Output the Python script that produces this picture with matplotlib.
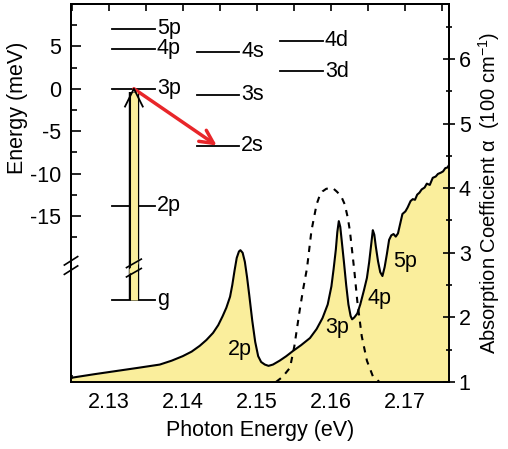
import matplotlib
matplotlib.use("Agg")
import matplotlib.pyplot as plt
from matplotlib.ticker import MultipleLocator, FixedLocator

plt.rcParams['font.family'] = ['Liberation Sans', 'DejaVu Sans']
plt.rcParams['font.size'] = 15.5
plt.rcParams['axes.unicode_minus'] = False
plt.rcParams['mathtext.fontset'] = 'custom'
plt.rcParams['mathtext.rm'] = 'Liberation Sans'

# absorption spectrum (eV, 100 cm^-1)
abs_e = [2.1249, 2.1252, 2.1280, 2.1310, 2.1340, 2.1369, 2.1385, 2.1400, 2.1412,
         2.1423, 2.1432, 2.1441, 2.1448, 2.1454, 2.1459, 2.1464, 2.1467, 2.1470,
         2.1473, 2.1476, 2.1478, 2.1481, 2.1484, 2.1487, 2.1490, 2.1494, 2.1498,
         2.1502, 2.1506, 2.1511, 2.1516, 2.1522, 2.1531, 2.1540, 2.1549, 2.1560,
         2.1572, 2.1581, 2.1589, 2.1596, 2.1601, 2.1604, 2.1607, 2.1609, 2.1611,
         2.1613, 2.1615, 2.1618, 2.1621, 2.1624, 2.1627, 2.1629, 2.1632, 2.1636,
         2.1640, 2.1645, 2.1649, 2.1652, 2.1655, 2.1657, 2.1659, 2.1661, 2.1664,
         2.1667, 2.1670, 2.1673, 2.1676, 2.1679, 2.1682, 2.1685, 2.1688, 2.1691,
         2.1694, 2.1697, 2.1701, 2.1704, 2.1708, 2.1711, 2.1714, 2.1717, 2.1720,
         2.1723, 2.1727, 2.1730, 2.1734, 2.1738, 2.1742, 2.1745, 2.1749, 2.1752,
         2.1755, 2.1758, 2.1760]
abs_a = [1.06, 1.07, 1.12, 1.17, 1.22, 1.27, 1.33, 1.40, 1.47,
         1.56, 1.65, 1.76, 1.88, 2.02, 2.15, 2.32, 2.50, 2.72,
         2.92, 3.02, 3.04, 3.00, 2.86, 2.62, 2.34, 1.95, 1.62,
         1.40, 1.31, 1.27, 1.25, 1.27, 1.33, 1.40, 1.48, 1.57,
         1.68, 1.82, 1.99, 2.20, 2.48, 2.75, 3.05, 3.32, 3.49,
         3.40, 3.18, 2.85, 2.50, 2.20, 2.02, 1.97, 2.00, 2.06,
         2.20, 2.42, 2.61, 2.85, 3.15, 3.35, 3.28, 3.10, 2.87,
         2.70, 2.64, 2.78, 2.98, 3.20, 3.27, 3.29, 3.25, 3.30,
         3.45, 3.60, 3.64, 3.70, 3.80, 3.83, 3.82, 3.90, 3.93,
         3.98, 4.01, 4.07, 4.05, 4.16, 4.18, 4.22, 4.24, 4.26,
         4.31, 4.32, 4.36]

# laser spectrum (dashed)
laser_e = [2.1526, 2.1535, 2.1545, 2.1551, 2.1558, 2.1563, 2.1568, 2.1574, 2.1581,
           2.1585, 2.1589, 2.1594, 2.1599, 2.1604, 2.1608, 2.1614, 2.1619, 2.1623,
           2.1626, 2.1632, 2.1636, 2.1642, 2.1649, 2.1657, 2.1666]
laser_a = [1.00, 1.08, 1.22, 1.56, 2.10, 2.45, 2.76, 3.34, 3.75,
           3.88, 3.95, 3.99, 4.00, 3.99, 3.95, 3.88, 3.75, 3.55,
           3.34, 2.72, 2.25, 1.71, 1.33, 1.09, 1.00]

# exciton levels (meV), g drawn below the axis break
p_names = ['5p', '4p', '3p', '2p', 'g']
p_levels = [7.06, 4.73, 0.0, -13.8, -24.9]
s_names = ['4s', '3s', '2s']
s_levels = [4.34, -0.71, -6.7]
d_names = ['4d', '3d']
d_levels = [5.67, 2.05]
col_x = [(2.1305, 2.1362), (2.1419, 2.1476), (2.1532, 2.1589)]

peak_names = ['2p', '3p', '4p', '5p']
peak_pos = [(2.1477, 1.51), (2.1609, 1.84), (2.1666, 2.30), (2.1701, 2.87)]

yellow = '#FAEE9C'

fig = plt.figure(figsize=(5.08, 4.49), dpi=100)
ax = fig.add_axes([0.1398, 0.1492, 0.7441, 0.8419])
ax2 = ax.twinx()

# absorption on right axis
ax2.fill_between(abs_e, abs_a, 1.0, color=yellow, lw=0)
ax2.plot(abs_e, abs_a, color='black', lw=1.5)
ax2.plot(laser_e, laser_a, color='black', lw=1.5, dashes=(3, 3))
for name, (xx, yy) in zip(peak_names, peak_pos):
    ax2.text(xx, yy, name, ha='center', va='center')
ax2.set_ylim(1, 6.85)
ax2.yaxis.set_major_locator(MultipleLocator(1))
ax2.yaxis.set_minor_locator(MultipleLocator(0.5))
ax2.tick_params(axis='y', which='major', direction='inout', length=8, width=1.2, pad=3)
ax2.tick_params(axis='y', which='minor', direction='inout', length=5, width=1.2)
ax2.set_ylabel('Absorption Coefficient α  (100 cm$^{-1}$)', fontsize=14.5, labelpad=4)

# level diagram on left axis
ax.set_xlim(2.1249, 2.1760)
ax.set_ylim(-34.6, 10.0)
for names, levels, (x0, x1) in zip([p_names, s_names, d_names],
                                   [p_levels, s_levels, d_levels], col_x):
    for nm, lv in zip(names, levels):
        ax.plot([x0, x1], [lv, lv], color='black', lw=1.3)
        ax.text(x1 + 0.0003, lv, nm, ha='left', va='center')

# yellow excitation arrow g -> 3p
xa = 2.1334
ax.plot([xa, xa], [-24.9, -0.4], color='black', lw=7.5, solid_capstyle='butt', zorder=3)
ax.plot([xa, xa], [-24.9, -0.4], color=yellow, lw=5, solid_capstyle='butt', zorder=4)
ax.plot([xa - 0.0012, xa, xa + 0.0012], [-2.1, 0, -2.1], color='black', lw=1.3, zorder=5)
# break on arrow
for yb in [-20.6, -21.7]:
    ax.plot([xa - 0.0010, xa + 0.0010], [yb - 0.5, yb + 0.5], color='black', lw=1.2, zorder=6)
ax.fill([xa - 0.0006, xa + 0.0006, xa + 0.0006, xa - 0.0006],
        [-21.3, -20.1, -20.7, -21.9], color=yellow, lw=0, zorder=5)

# red relaxation arrow 3p -> 2s
ax.annotate('', xy=(2.1446, -6.7), xytext=(xa, 0),
            arrowprops=dict(arrowstyle='->', color='#E8262A', lw=2.5,
                            mutation_scale=24, shrinkA=0, shrinkB=0))

# break on left spine
xs = 2.1249
for yb in [-20.3, -21.4]:
    ax.plot([xs - 0.0009, xs + 0.0009], [yb - 0.5, yb + 0.5], color='black', lw=1.2,
            clip_on=False, zorder=6)

ax.yaxis.set_major_locator(FixedLocator([-15, -10, -5, 0, 5]))
ax.yaxis.set_minor_locator(FixedLocator([-17.5, -12.5, -7.5, -2.5, 2.5, 7.5]))
ax.xaxis.set_major_locator(MultipleLocator(0.01))
ax.xaxis.set_minor_locator(MultipleLocator(0.005))
ax.xaxis.set_major_formatter(plt.FuncFormatter(lambda v, p: f'{v:.2f}'))
ax.tick_params(axis='y', which='both', direction='in', width=1.2, pad=7)
ax.tick_params(axis='y', which='major', length=7)
ax.tick_params(axis='y', which='minor', length=4)
ax.tick_params(axis='x', which='both', direction='in', top=True, width=1.2, pad=7, length=5)
ax.set_ylabel('Energy (meV)')
ax.yaxis.set_label_coords(-0.114, 0.725)
ax.set_xlabel('Photon Energy (eV)', labelpad=5)

for a in (ax, ax2):
    for sp in a.spines.values():
        sp.set_linewidth(1.4)

fig.savefig('out.png', dpi=100)
